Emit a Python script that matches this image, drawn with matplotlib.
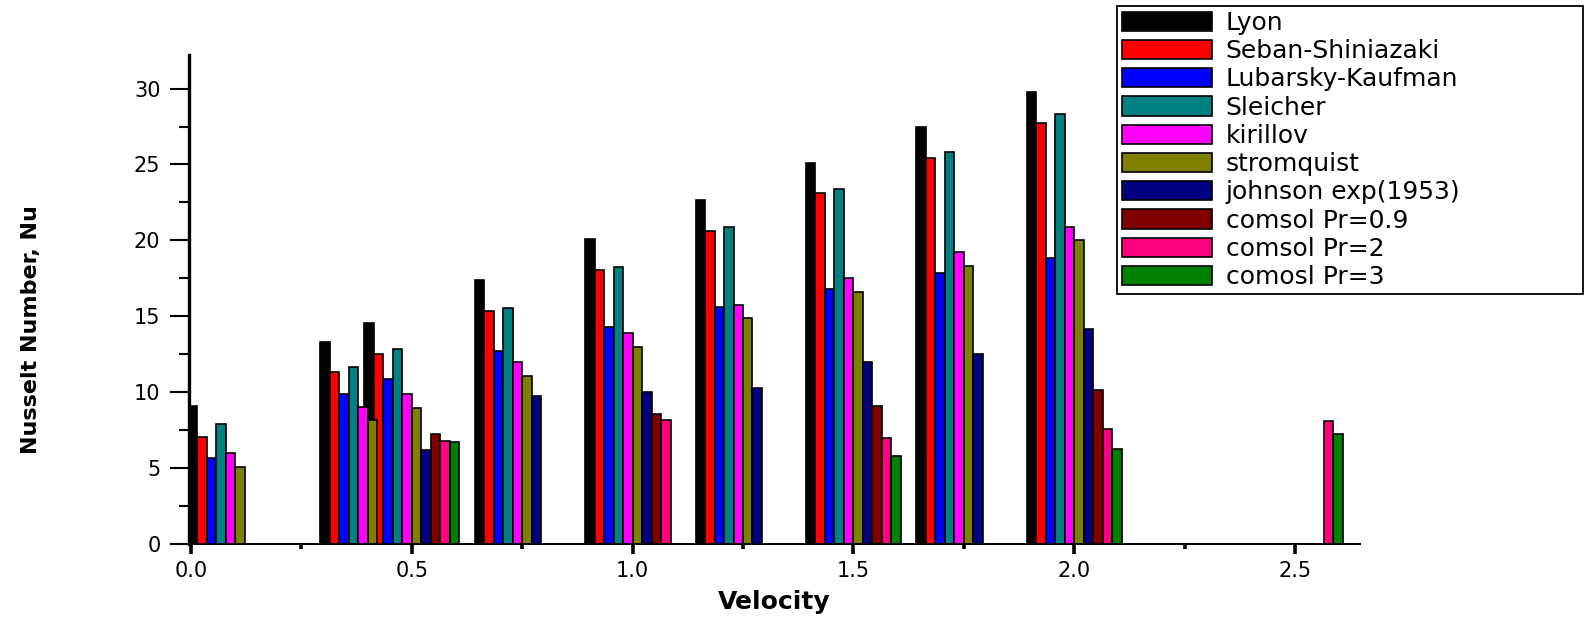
import numpy as np
import matplotlib
matplotlib.use("Agg")
import matplotlib.pyplot as plt
from matplotlib import font_manager
from matplotlib.ticker import MultipleLocator

nan = np.nan

velocity = [0.1, 0.4, 0.5, 0.75, 1.0, 1.25, 1.5, 1.75, 2.0, 2.5]

lyon = [9.1, 13.3, 14.55, 17.4, 20.1, 22.65, 25.1, 27.47, 29.78, nan]
seban = [7.06, 11.3, 12.52, 15.37, 18.07, 20.63, 23.09, 25.44, 27.76, nan]
lubarsky = [5.68, 9.91, 10.85, 12.74, 14.28, 15.63, 16.8, 17.87, 18.86, nan]
sleicher = [7.89, 11.64, 12.83, 15.57, 18.27, 20.86, 23.38, 25.84, 28.31, nan]
kirillov = [5.99, 9.01, 9.91, 11.97, 13.93, 15.76, 17.54, 19.21, 20.88, nan]
stromquist = [5.09, 8.14, 8.99, 11.07, 13.0, 14.87, 16.62, 18.33, 20.0, nan]
johnson = [nan, nan, 6.18, 9.78, 10.0, 10.29, 12.0, 12.5, 14.17, nan]
comsol_09 = [nan, nan, 7.28, nan, 8.55, nan, 9.06, nan, 10.14, nan]
comsol_2 = [nan, nan, 6.8, nan, 8.18, nan, 6.97, nan, 7.59, 8.11]
comsol_3 = [nan, nan, 6.75, nan, nan, nan, 5.77, nan, 6.29, 7.24]

labels = ["Lyon", "Seban-Shiniazaki", "Lubarsky-Kaufman", "Sleicher", "kirillov",
          "stromquist", "johnson exp(1953)", "comsol Pr=0.9", "comsol Pr=2",
          "comosl Pr=3"]
colors = ["#000000", "#FF0000", "#0000FF", "#008080", "#FF00FF",
          "#808000", "#000080", "#800000", "#FF0080", "#008000"]
series = [lyon, seban, lubarsky, sleicher, kirillov, stromquist, johnson,
          comsol_09, comsol_2, comsol_3]

# condensed bold font for the y label, if one is installed
names = {f.name for f in font_manager.fontManager.ttflist}
if "Liberation Sans Narrow" in names:
    ylab_font, ylab_size = "Liberation Sans Narrow", 20
elif "DejaVu Sans Condensed" in names:
    ylab_font, ylab_size = "DejaVu Sans Condensed", 17
else:
    ylab_font, ylab_size = "DejaVu Sans", 16

fig = plt.figure(figsize=(15.88, 6.18), dpi=100)
ax = fig.add_axes([0.119, 0.1197, 0.7374, 0.791])

w = 0.0215
n = len(series)
x = np.array(velocity)
for i, (vals, lab, col) in enumerate(zip(series, labels, colors)):
    ax.bar(x - n * w / 2 + i * w, vals, width=w, align="edge", color=col,
           edgecolor="black", linewidth=1.2, label=lab)

ax.set_xlim(-0.0045, 2.647)
ax.set_ylim(0, 32.2)
ax.xaxis.set_major_locator(MultipleLocator(0.5))
ax.xaxis.set_minor_locator(MultipleLocator(0.25))
ax.yaxis.set_major_locator(MultipleLocator(5))
ax.yaxis.set_minor_locator(MultipleLocator(2.5))
ax.xaxis.set_major_formatter(matplotlib.ticker.FormatStrFormatter("%.1f"))

for s in ["top", "right"]:
    ax.spines[s].set_visible(False)
ax.spines["left"].set_linewidth(2.4)
ax.spines["bottom"].set_linewidth(1.4)

ax.tick_params(axis="x", which="major", direction="out", length=7.5, width=2.6,
               labelsize=15, pad=5)
ax.tick_params(axis="x", which="minor", direction="out", length=3.8, width=2.6)
ax.tick_params(axis="y", which="major", direction="out", length=13.5, width=1.5,
               labelsize=15, pad=7)
ax.tick_params(axis="y", which="minor", direction="out", length=7, width=1.5)

fig.text(0.4877, 0.026, "Velocity", ha="center", va="center",
         fontsize=18, fontweight="bold")
fig.text(0.0195, 0.466, "Nusselt Number, Nu", ha="center", va="center",
         rotation=90, fontsize=ylab_size, fontweight="bold", family=ylab_font)

leg = ax.legend(loc="upper left", bbox_to_anchor=(0.7034, 0.534, 0.2935, 0.4563),
                bbox_transform=fig.transFigure, mode="expand", borderaxespad=0,
                fontsize=18, handlelength=3.6, handleheight=0.8,
                handletextpad=0.55, borderpad=0.2, labelspacing=0.17,
                fancybox=False, framealpha=1, edgecolor="black")
leg.get_frame().set_linewidth(1.3)

fig.savefig("out.png", dpi=100)
